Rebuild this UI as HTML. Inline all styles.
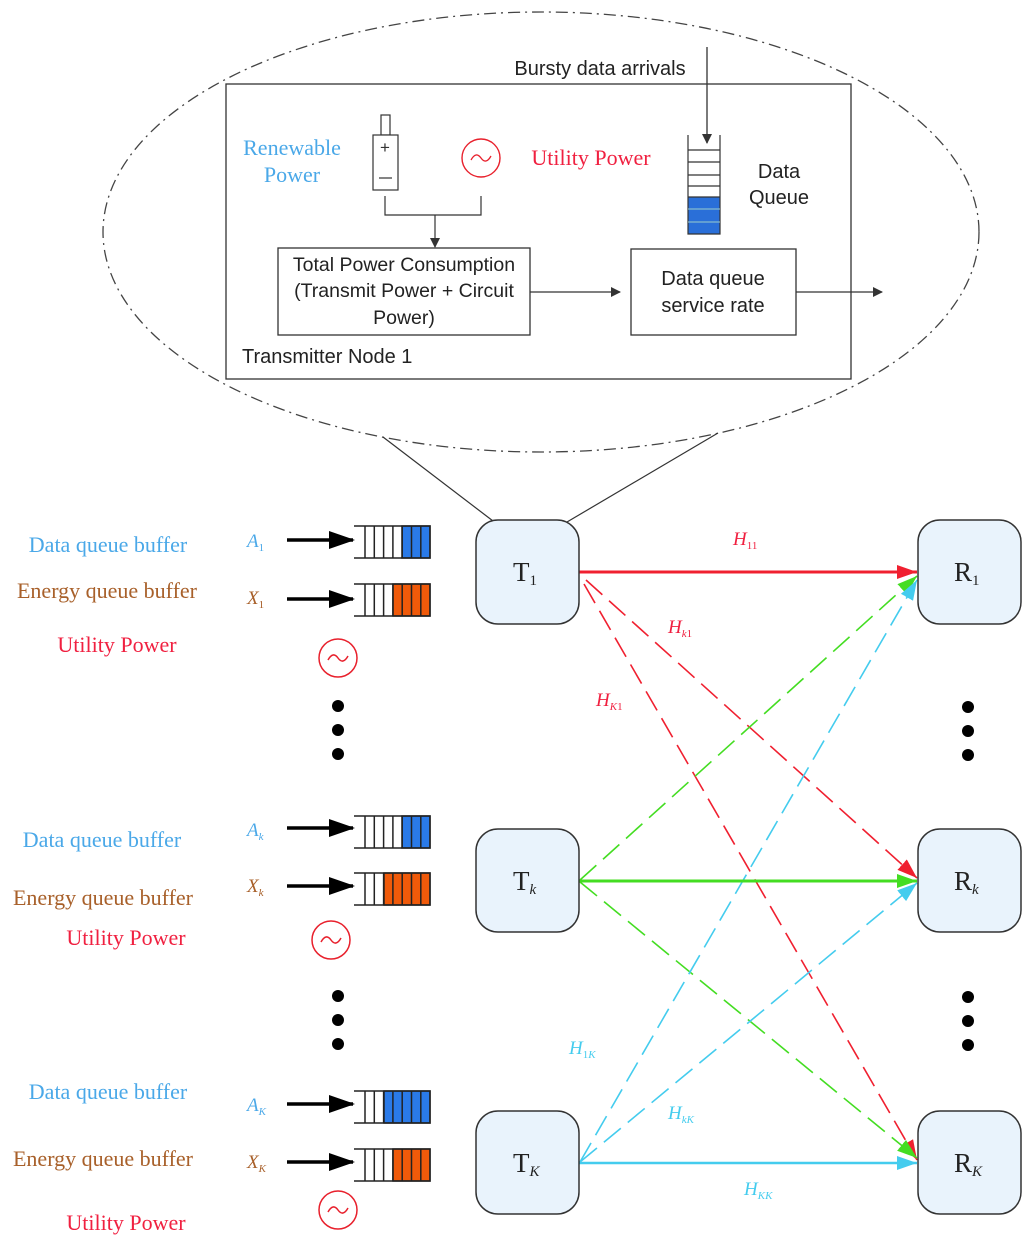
<!DOCTYPE html>
<html><head><meta charset="utf-8"><style>
html,body{margin:0;padding:0;background:#fff;}
svg{display:block;}
.sf{font-family:"Liberation Serif",serif;}
.ss{font-family:"Liberation Sans",sans-serif;}
</style></head><body>
<svg width="1036" height="1247" viewBox="0 0 1036 1247" xmlns="http://www.w3.org/2000/svg">
<defs>
<marker id="mk" markerWidth="10" markerHeight="10" refX="9" refY="5" orient="auto" markerUnits="userSpaceOnUse"><path d="M0,0 L10,5 L0,10 Z" fill="#333"/></marker>
<marker id="mr" markerWidth="20" markerHeight="14" refX="20" refY="7" orient="auto" markerUnits="userSpaceOnUse"><path d="M0,0 L20,7 L0,14 Z" fill="#f02030"/></marker>
<marker id="mg" markerWidth="20" markerHeight="14" refX="20" refY="7" orient="auto" markerUnits="userSpaceOnUse"><path d="M0,0 L20,7 L0,14 Z" fill="#44dd22"/></marker>
<marker id="mc" markerWidth="20" markerHeight="14" refX="20" refY="7" orient="auto" markerUnits="userSpaceOnUse"><path d="M0,0 L20,7 L0,14 Z" fill="#44ccee"/></marker>
<marker id="mb" markerWidth="26" markerHeight="18" refX="24" refY="9" orient="auto" markerUnits="userSpaceOnUse"><path d="M0,0 L26,9 L0,18 Z" fill="#000"/></marker>
</defs>

<ellipse cx="541" cy="232" rx="438" ry="220" fill="none" stroke="#444" stroke-width="1.3" stroke-dasharray="12,5,2,5"/>
<line x1="383" y1="437" x2="493" y2="521" stroke="#333" stroke-width="1.2"/>
<line x1="718" y1="433" x2="567" y2="522" stroke="#333" stroke-width="1.2"/>

<rect x="226" y="84" width="625" height="295" fill="#fff" stroke="#333" stroke-width="1.3"/>
<text x="600" y="75" class="ss" font-size="20" text-anchor="middle" fill="#222">Bursty data arrivals</text>
<line x1="707" y1="47" x2="707" y2="143" stroke="#333" stroke-width="1.3" marker-end="url(#mk)"/>

<rect x="688" y="197" width="32" height="37" fill="#2a6fd8"/>
<g stroke="#333" stroke-width="1.2" fill="none">
<path d="M688,135 V234 H720 V135"/>
<line x1="688" y1="150" x2="720" y2="150"/><line x1="688" y1="162" x2="720" y2="162"/>
<line x1="688" y1="175" x2="720" y2="175"/><line x1="688" y1="186" x2="720" y2="186"/>
<line x1="688" y1="197" x2="720" y2="197"/>
</g>
<line x1="688" y1="209" x2="720" y2="209" stroke="#9cc" stroke-width="1"/>
<line x1="688" y1="222" x2="720" y2="222" stroke="#9cc" stroke-width="1"/>
<text x="779" y="178" class="ss" font-size="20" text-anchor="middle" fill="#222">Data</text>
<text x="779" y="204" class="ss" font-size="20" text-anchor="middle" fill="#222">Queue</text>

<rect x="381" y="115" width="9" height="20" fill="#fff" stroke="#333" stroke-width="1.2"/>
<rect x="373" y="135" width="25" height="55" fill="#fff" stroke="#333" stroke-width="1.2"/>
<text x="385" y="153" class="ss" font-size="17" text-anchor="middle" fill="#333">+</text>
<line x1="379" y1="178" x2="392" y2="178" stroke="#333" stroke-width="1.2"/>
<circle cx="481" cy="158" r="19" fill="none" stroke="#e8202c" stroke-width="1.4"/>
<path d="M471,160 q5,-9 10,-2 q5,7 10,-2" fill="none" stroke="#e8202c" stroke-width="1.3"/>
<text x="292" y="155" class="sf" font-size="22" text-anchor="middle" fill="#4aa8e8">Renewable</text>
<text x="292" y="182" class="sf" font-size="22" text-anchor="middle" fill="#4aa8e8">Power</text>
<text x="591" y="165" class="sf" font-size="22" text-anchor="middle" fill="#f02040">Utility Power</text>
<path d="M385,196 V215 H481 V196" fill="none" stroke="#333" stroke-width="1.2"/>
<line x1="435" y1="215" x2="435" y2="247" stroke="#333" stroke-width="1.2" marker-end="url(#mk)"/>

<rect x="278" y="248" width="252" height="87" fill="#fff" stroke="#333" stroke-width="1.3"/>
<text x="404" y="271" class="ss" font-size="19.5" text-anchor="middle" fill="#222">Total Power Consumption</text>
<text x="404" y="297" class="ss" font-size="19.5" text-anchor="middle" fill="#222">(Transmit Power + Circuit</text>
<text x="404" y="324" class="ss" font-size="19.5" text-anchor="middle" fill="#222">Power)</text>
<line x1="530" y1="292" x2="620" y2="292" stroke="#333" stroke-width="1.2" marker-end="url(#mk)"/>
<rect x="631" y="249" width="165" height="86" fill="#fff" stroke="#333" stroke-width="1.3"/>
<text x="713" y="285" class="ss" font-size="20" text-anchor="middle" fill="#222">Data queue</text>
<text x="713" y="312" class="ss" font-size="20" text-anchor="middle" fill="#222">service rate</text>
<line x1="796" y1="292" x2="882" y2="292" stroke="#333" stroke-width="1.2" marker-end="url(#mk)"/>
<text x="242" y="363" class="ss" font-size="20" fill="#222">Transmitter Node 1</text>

<g class="sf" font-size="22" text-anchor="middle">
<text x="108" y="552" fill="#4aa8e8">Data queue buffer</text>
<text x="107" y="598" fill="#a8602a">Energy queue buffer</text>
<text x="117" y="652" fill="#f02040">Utility Power</text>
<text x="102" y="847" fill="#4aa8e8">Data queue buffer</text>
<text x="103" y="905" fill="#a8602a">Energy queue buffer</text>
<text x="126" y="945" fill="#f02040">Utility Power</text>
<text x="108" y="1099" fill="#4aa8e8">Data queue buffer</text>
<text x="103" y="1166" fill="#a8602a">Energy queue buffer</text>
<text x="126" y="1230" fill="#f02040">Utility Power</text>
</g>
<g class="sf" font-size="19" font-style="italic">
<text x="247" y="547" fill="#4aa8e8">A<tspan font-size="11" dy="4" font-style="normal">1</tspan></text>
<text x="247" y="604" fill="#a8602a">X<tspan font-size="11" dy="4" font-style="normal">1</tspan></text>
<text x="247" y="836" fill="#4aa8e8">A<tspan font-size="11" dy="4">k</tspan></text>
<text x="247" y="892" fill="#a8602a">X<tspan font-size="11" dy="4">k</tspan></text>
<text x="247" y="1111" fill="#4aa8e8">A<tspan font-size="11" dy="4">K</tspan></text>
<text x="247" y="1168" fill="#a8602a">X<tspan font-size="11" dy="4">K</tspan></text>
</g>
<g stroke="#000" stroke-width="3.5" marker-end="url(#mb)">
<line x1="287" y1="540" x2="353" y2="540"/>
<line x1="287" y1="599" x2="353" y2="599"/>
<line x1="287" y1="828" x2="353" y2="828"/>
<line x1="287" y1="886" x2="353" y2="886"/>
<line x1="287" y1="1104" x2="353" y2="1104"/>
<line x1="287" y1="1162" x2="353" y2="1162"/>
</g>

<g stroke="#222" stroke-width="1.5">
<g transform="translate(0,526)">
<rect x="402" y="0" width="28" height="32" fill="#2a7ae8"/>
<path d="M354,0 H430 V32 H354" fill="none"/>
<path d="M365,0V32M374.3,0V32M383.6,0V32M392.9,0V32M402.2,0V32M411.5,0V32M420.8,0V32" fill="none"/>
</g>
<g transform="translate(0,584)">
<rect x="393" y="0" width="37" height="32" fill="#f05a0a"/>
<path d="M354,0 H430 V32 H354" fill="none"/>
<path d="M365,0V32M374.3,0V32M383.6,0V32M392.9,0V32M402.2,0V32M411.5,0V32M420.8,0V32" fill="none"/>
</g>
<g transform="translate(0,816)">
<rect x="402" y="0" width="28" height="32" fill="#2a7ae8"/>
<path d="M354,0 H430 V32 H354" fill="none"/>
<path d="M365,0V32M374.3,0V32M383.6,0V32M392.9,0V32M402.2,0V32M411.5,0V32M420.8,0V32" fill="none"/>
</g>
<g transform="translate(0,873)">
<rect x="384" y="0" width="46" height="32" fill="#f05a0a"/>
<path d="M354,0 H430 V32 H354" fill="none"/>
<path d="M365,0V32M374.3,0V32M383.6,0V32M392.9,0V32M402.2,0V32M411.5,0V32M420.8,0V32" fill="none"/>
</g>
<g transform="translate(0,1091)">
<rect x="384" y="0" width="46" height="32" fill="#2a7ae8"/>
<path d="M354,0 H430 V32 H354" fill="none"/>
<path d="M365,0V32M374.3,0V32M383.6,0V32M392.9,0V32M402.2,0V32M411.5,0V32M420.8,0V32" fill="none"/>
</g>
<g transform="translate(0,1149)">
<rect x="393" y="0" width="37" height="32" fill="#f05a0a"/>
<path d="M354,0 H430 V32 H354" fill="none"/>
<path d="M365,0V32M374.3,0V32M383.6,0V32M392.9,0V32M402.2,0V32M411.5,0V32M420.8,0V32" fill="none"/>
</g>
</g>

<g fill="none" stroke="#e8202c" stroke-width="1.5">
<circle cx="338" cy="658" r="19"/><path d="M328,660 q5,-9 10,-2 q5,7 10,-2"/>
<circle cx="331" cy="940" r="19"/><path d="M321,942 q5,-9 10,-2 q5,7 10,-2"/>
<circle cx="338" cy="1210" r="19"/><path d="M328,1212 q5,-9 10,-2 q5,7 10,-2"/>
</g>
<g fill="#000">
<circle cx="338" cy="706" r="6"/><circle cx="338" cy="730" r="6"/><circle cx="338" cy="754" r="6"/>
<circle cx="338" cy="996" r="6"/><circle cx="338" cy="1020" r="6"/><circle cx="338" cy="1044" r="6"/>
<circle cx="968" cy="707" r="6"/><circle cx="968" cy="731" r="6"/><circle cx="968" cy="755" r="6"/>
<circle cx="968" cy="997" r="6"/><circle cx="968" cy="1021" r="6"/><circle cx="968" cy="1045" r="6"/>
</g>

<g stroke-width="1.6" fill="none">
<line x1="586" y1="580" x2="917" y2="878" stroke="#f02030" stroke-dasharray="22,9" marker-end="url(#mr)"/>
<line x1="584" y1="584" x2="917" y2="1160" stroke="#f02030" stroke-dasharray="22,9" marker-end="url(#mr)"/>
<line x1="580" y1="880" x2="917" y2="576" stroke="#44dd22" stroke-dasharray="22,9" marker-end="url(#mg)"/>
<line x1="580" y1="882" x2="917" y2="1158" stroke="#44dd22" stroke-dasharray="22,9" marker-end="url(#mg)"/>
<line x1="580" y1="1162" x2="917" y2="580" stroke="#44ccee" stroke-dasharray="22,9" marker-end="url(#mc)"/>
<line x1="580" y1="1162" x2="917" y2="883" stroke="#44ccee" stroke-dasharray="22,9" marker-end="url(#mc)"/>
</g>
<line x1="579" y1="572" x2="917" y2="572" stroke="#f02030" stroke-width="3" marker-end="url(#mr)"/>
<line x1="579" y1="881" x2="917" y2="881" stroke="#44dd22" stroke-width="3" marker-end="url(#mg)"/>
<line x1="579" y1="1163" x2="917" y2="1163" stroke="#44ccee" stroke-width="2.5" marker-end="url(#mc)"/>

<g class="sf" font-size="19" font-style="italic">
<text x="733" y="545" fill="#f02040">H<tspan font-size="11" dy="4" font-style="normal">11</tspan></text>
<text x="668" y="633" fill="#f02040">H<tspan font-size="11" dy="4">k</tspan><tspan font-size="11" font-style="normal">1</tspan></text>
<text x="596" y="706" fill="#f02040">H<tspan font-size="11" dy="4">K</tspan><tspan font-size="11" font-style="normal">1</tspan></text>
<text x="569" y="1054" fill="#44ccee">H<tspan font-size="11" dy="4" font-style="normal">1</tspan><tspan font-size="11">K</tspan></text>
<text x="668" y="1119" fill="#44ccee">H<tspan font-size="11" dy="4">kK</tspan></text>
<text x="744" y="1195" fill="#44ccee">H<tspan font-size="11" dy="4">KK</tspan></text>
</g>

<g fill="#e9f3fc" stroke="#333" stroke-width="1.5">
<rect x="476" y="520" width="103" height="104" rx="22"/>
<rect x="918" y="520" width="103" height="104" rx="22"/>
<rect x="476" y="829" width="103" height="103" rx="22"/>
<rect x="918" y="829" width="103" height="103" rx="22"/>
<rect x="476" y="1111" width="103" height="103" rx="22"/>
<rect x="918" y="1111" width="103" height="103" rx="22"/>
</g>
<g class="sf" font-size="27" fill="#222">
<text x="513" y="581">T<tspan font-size="15" dy="4">1</tspan></text>
<text x="954" y="581">R<tspan font-size="15" dy="4">1</tspan></text>
<text x="513" y="890">T<tspan font-size="15" dy="4" font-style="italic">k</tspan></text>
<text x="954" y="890">R<tspan font-size="15" dy="4" font-style="italic">k</tspan></text>
<text x="513" y="1172">T<tspan font-size="15" dy="4" font-style="italic">K</tspan></text>
<text x="954" y="1172">R<tspan font-size="15" dy="4" font-style="italic">K</tspan></text>
</g>
</svg>
</body></html>
